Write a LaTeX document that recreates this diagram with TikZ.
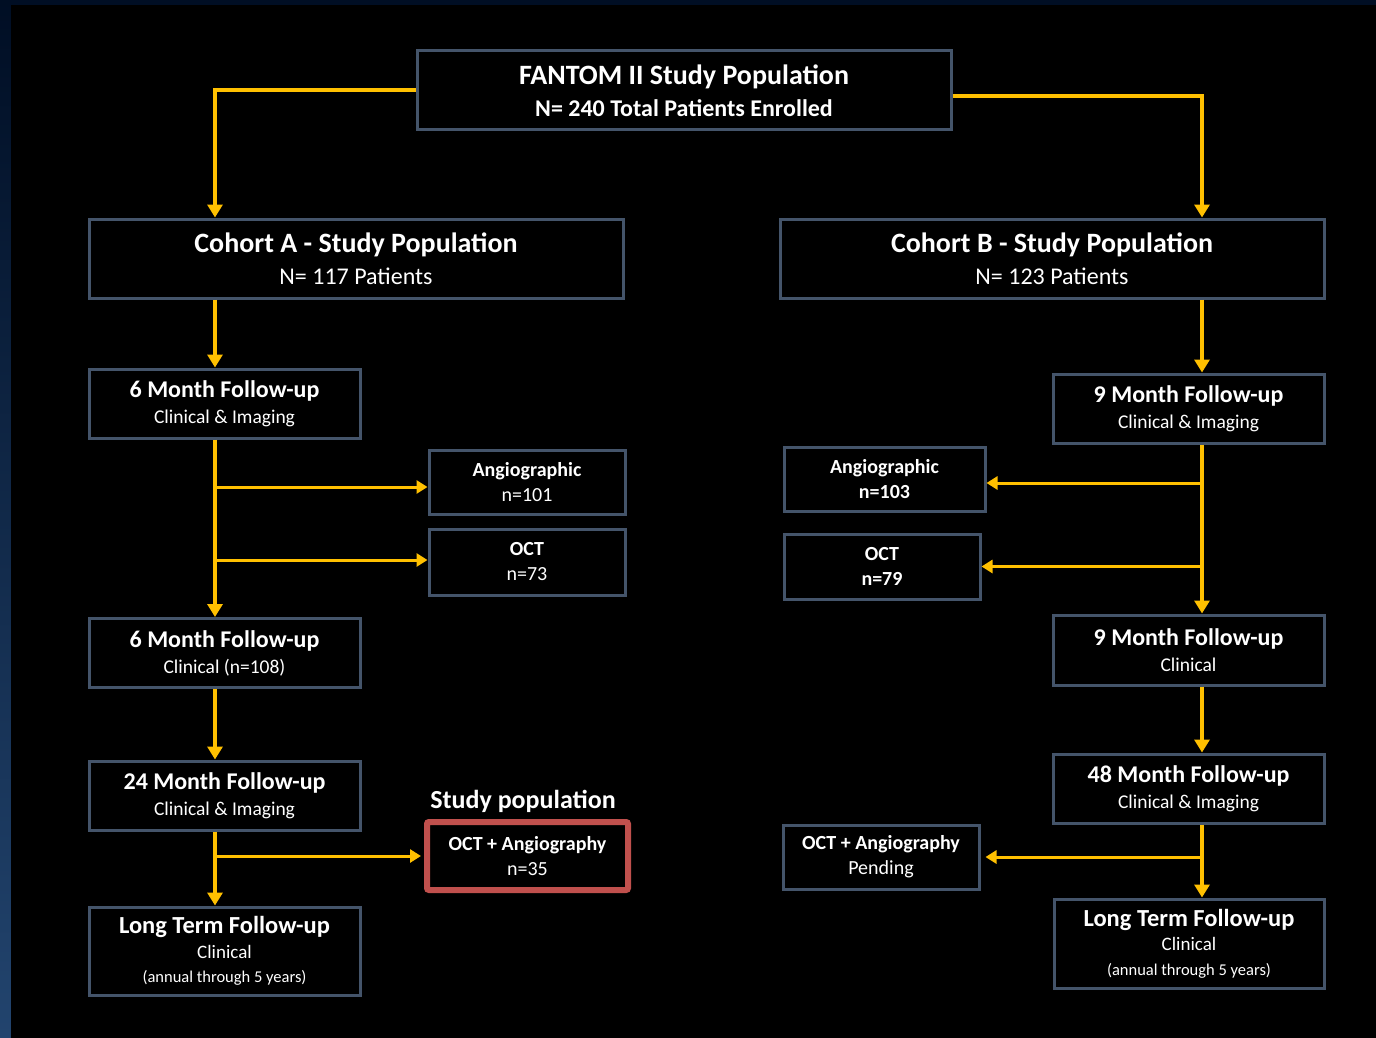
\documentclass[tikz,border=0pt]{standalone}
\usepackage{fontspec}
\setmainfont{Carlito}
\usetikzlibrary{arrows.meta}
\definecolor{boxline}{RGB}{68,84,106}
\definecolor{arrowyel}{RGB}{255,192,0}
\definecolor{studyred}{RGB}{192,80,77}
\definecolor{edgenavy}{RGB}{0,14,36}
\definecolor{edgeblue}{RGB}{34,68,110}

\begin{document}
\begin{tikzpicture}[x=1pt,y=1pt,yscale=-1,xscale=1,
    box/.style={draw=boxline, line width=3pt, fill=black, text=white, align=center, inner sep=0pt},
    bigbox/.style={box, minimum width=534, minimum height=79, font=\fontsize{24}{32}\selectfont},
    fupbox/.style={box, minimum width=271, minimum height=69, font=\fontsize{19.5}{26}\selectfont},
    smallbox/.style={box, minimum width=196, minimum height=65, font=\fontsize{20}{25}\selectfont},
    ltbox/.style={box, minimum width=271, minimum height=88, font=\fontsize{16.5}{24.5}\selectfont},
    flow/.style={draw=arrowyel, line width=4pt, -{Triangle[width=15pt,length=13pt]}},
    branch/.style={draw=arrowyel, line width=3pt, -{Triangle[width=13pt,length=11pt]}}]
        \useasboundingbox (0,0) rectangle (1376,1038);
        \fill[edgenavy] (0,0) rectangle (1376,1038);
        \shade[top color=edgenavy, bottom color=edgeblue] (0,0) rectangle (11,1038);
        \fill[black] (11,5) rectangle (1376,1038);

        \coordinate (spineA) at (215,0);
        \coordinate (spineB) at (1202,0);

        \node[bigbox] (pop) at (684,90.5) {{\fontsize{28}{28}\selectfont\bfseries FANTOM II Study Population}\\ \bfseries N= 240 Total Patients Enrolled};
        \node[bigbox] (cohA) at (356,258.5) {{\fontsize{28}{28}\selectfont\bfseries Cohort A - Study Population}\\ N= 117 Patients};
        \node[bigbox, minimum width=544] (cohB) at (1052,258.5) {{\fontsize{28}{28}\selectfont\bfseries Cohort B - Study Population}\\ N= 123 Patients};

        \node[fupbox] (a6) at (224.5,403.5) {{\fontsize{24}{24}\selectfont\bfseries 6 Month Follow-up}\\ Clinical \& Imaging};
        \node[smallbox, minimum height=64] (angA) at (527,482) {\bfseries Angiographic\\ n=101};
        \node[smallbox, minimum height=66] (octA) at (527,562) {\bfseries OCT\\ n=73};
        \node[fupbox] (a6c) at (224.5,653) {{\fontsize{24}{24}\selectfont\bfseries 6 Month Follow-up}\\ Clinical (n=108)};
        \node[fupbox] (a24) at (224.5,795.5) {{\fontsize{24}{24}\selectfont\bfseries 24 Month Follow-up}\\ Clinical \& Imaging};
        \node[smallbox, draw=studyred, line width=6pt, rounded corners=2pt, minimum width=201, minimum height=68] (studyA) at (527.5,856) {\bfseries OCT + Angiography\\ n=35};
        \node[text=white, font=\fontsize{26}{26}\selectfont\bfseries] (studyLbl) at (523,801) {Study population};
        \node[ltbox] (ltA) at (224.5,951) {{\fontsize{24.5}{24.5}\selectfont\bfseries Long Term Follow-up}\\ {\fontsize{19}{19}\selectfont Clinical}\\ (annual through 5 years)};

        \node[fupbox] (b9) at (1188.5,408.5) {{\fontsize{24}{24}\selectfont\bfseries 9 Month Follow-up}\\ Clinical \& Imaging};
        \node[smallbox, minimum width=201, minimum height=64] (angB) at (884.5,479) {\bfseries Angiographic\\ \bfseries n=103};
        \node[smallbox] (octB) at (882,566.5) {\bfseries OCT\\ \bfseries n=79};
        \node[fupbox, minimum height=70] (b9c) at (1188.5,650) {{\fontsize{24}{24}\selectfont\bfseries 9 Month Follow-up}\\ Clinical};
        \node[fupbox] (b48) at (1188.5,788.5) {{\fontsize{24}{24}\selectfont\bfseries 48 Month Follow-up}\\ Clinical \& Imaging};
        \node[smallbox, minimum height=64] (pendB) at (881,857) {\bfseries OCT + Angiography\\ Pending};
        \node[ltbox, minimum width=270, minimum height=89] (ltB) at (1189,943.5) {{\fontsize{24.5}{24.5}\selectfont\bfseries Long Term Follow-up}\\ {\fontsize{19}{19}\selectfont Clinical}\\ (annual through 5 years)};

        \draw[flow] (pop.west) -| (spineA |- cohA.north);
        \draw[flow] ([yshift=5.5pt]pop.east) -| (spineB |- cohB.north);

        \draw[flow] (cohA.south -| spineA) -- (a6.north -| spineA);
        \draw[flow] (a6.south -| spineA) -- (a6c.north -| spineA);
        \draw[branch] (spineA |- angA.west) ++(0,5) -- ([yshift=5pt]angA.west);
        \draw[branch] (spineA |- octA.west) ++(0,-2) -- ([yshift=-2pt]octA.west);
        \draw[flow] (a6c.south -| spineA) -- (a24.north -| spineA);
        \draw[flow] (a24.south -| spineA) -- (ltA.north -| spineA);
        \draw[branch, shorten >=3pt] (spineA |- studyA.west) -- (studyA.west);

        \draw[flow] (cohB.south -| spineB) -- (b9.north -| spineB);
        \draw[flow] (b9.south -| spineB) -- (b9c.north -| spineB);
        \draw[branch] (spineB |- angB.east) ++(0,4) -- ([yshift=4pt]angB.east);
        \draw[branch] (spineB |- octB.east) -- (octB.east);
        \draw[flow] (b9c.south -| spineB) -- (b48.north -| spineB);
        \draw[flow] (b48.south -| spineB) -- (ltB.north -| spineB);
        \draw[branch, shorten >=5pt] (spineB |- pendB.east) -- (pendB.east);
\end{tikzpicture}
\end{document}
